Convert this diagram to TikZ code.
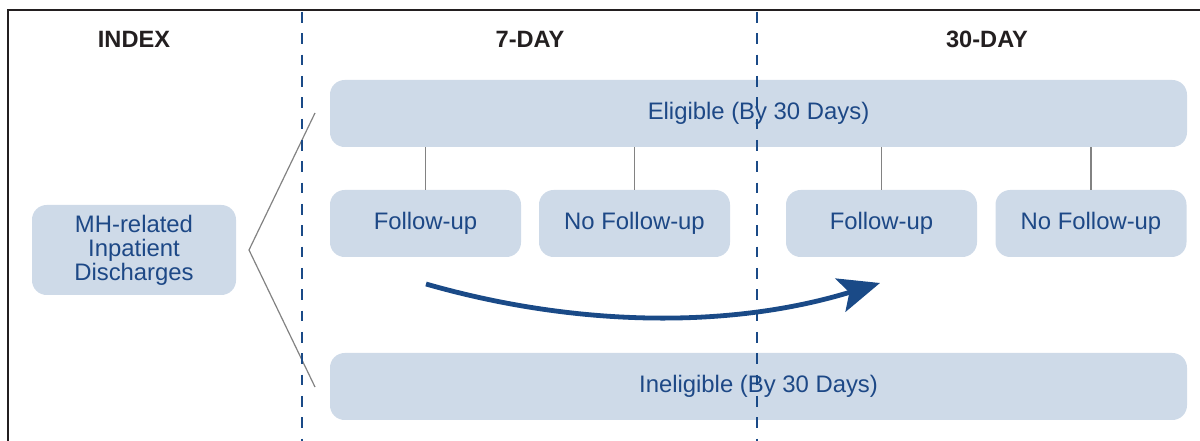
\documentclass[tikz,border=0pt]{standalone}
\usepackage{fontspec}
\setmainfont{Liberation Sans}
\usetikzlibrary{arrows.meta}
\definecolor{boxfill}{RGB}{206,218,232}
\definecolor{txtblue}{RGB}{29,72,134}
\definecolor{arrblue}{RGB}{26,74,135}
\definecolor{framegray}{RGB}{35,31,32}
\definecolor{linkgray}{RGB}{130,130,130}
\tikzset{
  box/.style={fill=boxfill, rounded corners=11pt, inner sep=0pt, align=center,
    text=txtblue, font=\fontsize{17.9}{18}\selectfont, minimum height=50.25pt},
  small/.style={box, minimum width=143.25pt},
  wide/.style={box, minimum width=642.75pt},
  header/.style={font=\fontsize{17.7}{18}\selectfont\bfseries, text=framegray, inner sep=0pt},
  link/.style={draw=linkgray, line width=0.9pt},
  divider/.style={draw=arrblue, line width=1.5pt, dash pattern=on 8pt off 8pt},
  flow/.style={draw=arrblue, line width=3.6pt, -{Stealth[length=31pt, width=26pt, inset=7pt]}}
}
\begin{document}
\begin{tikzpicture}[x=0.75pt,y=-0.75pt]
\useasboundingbox (0,0) rectangle (1200,441);
% frame
\draw[framegray, line width=1.7pt] (8,441) -- (8,10) -- (1200,10);
% headers
\node[header] (hindex) at (134,39) {INDEX};
\node[header] (h7) at (530,39) {7-DAY};
\node[header] (h30) at (987,39) {30-DAY};
% boxes
\node[wide] (elig) at (758.5,113.5) {Eligible (By 30 Days)};
\node[wide] (inel) at (758.5,386.5) {Ineligible (By 30 Days)};
\node[small] (fu7) at (425.5,223.5) {Follow-up};
\node[small] (nfu7) at (634.5,223.5) {No Follow-up};
\node[small] (fu30) at (881.5,223.5) {Follow-up};
\node[small] (nfu30) at (1091,223.5) {No Follow-up};
\node[box, minimum width=153pt, minimum height=67.5pt] (mh) at (134,250) {MH-related\\Inpatient\\Discharges};
% vertical links
\draw[link] (fu7.north) -- (fu7.north |- elig.south);
\draw[link] (nfu7.north) -- (nfu7.north |- elig.south);
\draw[link] (fu30.north) -- (fu30.north |- elig.south);
\draw[link] (nfu30.north) -- (nfu30.north |- elig.south);
% fork
\coordinate (fork) at (249,250);
\coordinate (forkup) at (315,113);
\coordinate (forkdn) at (315,387);
\draw[link] (forkup) -- (fork) -- (forkdn);
% dashed dividers
\coordinate (d1top) at (302,12);
\coordinate (d1bot) at (302,441);
\coordinate (d2top) at (757,12);
\coordinate (d2bot) at (757,441);
\draw[divider] (d1top) -- (d1bot);
\draw[divider] (d2top) -- (d2bot);
% big arrow
\coordinate (astart) at (426,284);
\coordinate (aend) at (880,283);
\draw[flow] (astart) .. controls (576,327) and (730,329) .. (aend);
\end{tikzpicture}
\end{document}
